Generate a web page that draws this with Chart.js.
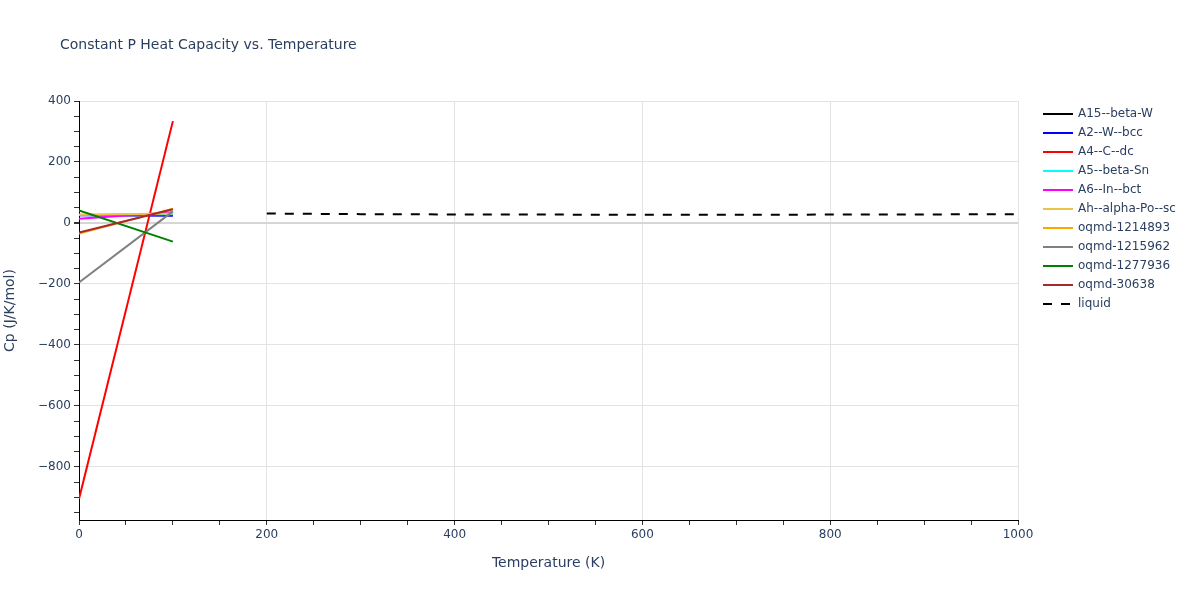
<!DOCTYPE html>
<html>
<head>
<meta charset="utf-8">
<script src="https://cdn.jsdelivr.net/npm/chart.js@4.4.1/dist/chart.umd.min.js"></script>
<style>
html,body{margin:0;padding:0;background:#fff;}
#wrap{width:1200px;height:600px;position:relative;}
</style>
</head>
<body>
<div id="wrap"><canvas id="c" width="1200" height="600"></canvas></div>
<script>
// ---- data ----
const seriesNames = ["A15--beta-W","A2--W--bcc","A4--C--dc","A5--beta-Sn","A6--In--bct","Ah--alpha-Po--sc","oqmd-1214893","oqmd-1215962","oqmd-1277936","oqmd-30638","liquid"];
const seriesColors = ["black","blue","red","cyan","magenta","#EBC34A","orange","gray","green","brown","black"];
const solidT = [0, 100];
const cpA15 = [26, 26];
const cpA2 = [25, 24];
const cpA4 = [-905, 334];
const cpA5 = [27, 29];
const cpA6 = [14, 35];
const cpAh = [27, 31];
const cp1214893 = [-35, 47];
const cp1215962 = [-195, 38];
const cp1277936 = [41, -61];
const cp30638 = [-31, 45];
const liquidT = [200, 300, 400, 500, 600, 700, 800, 900, 1000];
const cpLiquid = [31, 29, 28, 27.5, 27, 27, 27.5, 28, 29];
const xTickLabels = [0, 200, 400, 600, 800, 1000];
const yTickLabels = [-800, -600, -400, -200, 0, 200, 400];

const solidSeries = [cpA15, cpA2, cpA4, cpA5, cpA6, cpAh, cp1214893, cp1215962, cp1277936, cp30638];

const datasets = solidSeries.map((vals, i) => ({
  label: seriesNames[i],
  data: solidT.map((t, k) => ({x: t, y: vals[k]})),
  borderColor: seriesColors[i],
  backgroundColor: seriesColors[i],
  borderWidth: 2,
  pointRadius: 0,
  fill: false,
  tension: 0,
  order: -i
}));
datasets.push({
  label: seriesNames[10],
  data: liquidT.map((t, k) => ({x: t, y: cpLiquid[k]})),
  borderColor: seriesColors[10],
  backgroundColor: seriesColors[10],
  borderWidth: 2,
  borderDash: [9, 9],
  pointRadius: 0,
  fill: false,
  tension: 0,
  order: -10
});

const FONT = '"DejaVu Sans", Verdana, sans-serif';
const TXT = '#2a3f5f';

const fmt = v => (v < 0 ? '\u2212' + Math.abs(v) : String(v));

const customPlugin = {
  id: 'custom',
  afterDraw(chart) {
    const ctx = chart.ctx;
    ctx.save();
    // title
    ctx.fillStyle = TXT;
    ctx.font = '14px ' + FONT;
    ctx.textBaseline = 'middle';
    ctx.textAlign = 'left';
    ctx.fillText('Constant P Heat Capacity vs. Temperature', 60, 45);
    // legend
    ctx.font = '12px ' + FONT;
    chart.data.datasets.forEach((ds, i) => {
      const y = 114 + i * 19;
      ctx.beginPath();
      ctx.strokeStyle = ds.borderColor;
      ctx.lineWidth = 2;
      ctx.setLineDash(ds.borderDash || []);
      ctx.moveTo(1043, y);
      ctx.lineTo(1073, y);
      ctx.stroke();
      ctx.setLineDash([]);
      ctx.fillStyle = TXT;
      ctx.fillText(ds.label, 1078, y);
    });
    ctx.restore();
  }
};

new Chart(document.getElementById('c'), {
  type: 'line',
  data: { datasets },
  plugins: [customPlugin],
  options: {
    responsive: false,
    animation: false,
    layout: { padding: { left: 0, right: 182, top: 101, bottom: 28 } },
    plugins: { legend: { display: false }, tooltip: { enabled: false }, title: { display: false } },
    scales: {
      x: {
        type: 'linear',
        min: 0, max: 1000,
        afterFit(s) { s.height = 52; },
        afterBuildTicks(s) {
          const t = [];
          for (let v = 0; v <= 1000; v += 50) t.push({value: v});
          s.ticks = t;
        },
        ticks: {
          autoSkip: false,
          maxRotation: 0,
          padding: 3,
          color: TXT,
          font: { family: FONT, size: 12 },
          callback: v => (xTickLabels.includes(v) ? fmt(v) : '')
        },
        grid: {
          drawTicks: true,
          tickLength: 5,
          color: c => (c.tick && xTickLabels.includes(c.tick.value) && c.tick.value !== 0 ? '#e3e3e3' : 'rgba(0,0,0,0)'),
          tickColor: '#333',
          lineWidth: 1
        },
        border: { display: true, color: '#000', width: 1 },
        title: {
          display: true,
          text: 'Temperature (K)',
          color: TXT,
          font: { family: FONT, size: 14 },
          padding: { top: 0, bottom: 0 }
        }
      },
      y: {
        type: 'linear',
        min: -974, max: 400,
        afterFit(s) { s.width = 79; },
        afterBuildTicks(s) {
          const t = [];
          for (let v = -950; v <= 400; v += 50) t.push({value: v});
          s.ticks = t;
        },
        ticks: {
          autoSkip: false,
          padding: 3,
          color: TXT,
          font: { family: FONT, size: 12 },
          callback: v => (yTickLabels.includes(v) ? fmt(v) : '')
        },
        grid: {
          drawTicks: true,
          tickLength: 5,
          color: c => {
            if (!c.tick || !yTickLabels.includes(c.tick.value)) return 'rgba(0,0,0,0)';
            return c.tick.value === 0 ? '#d6d6d6' : '#e3e3e3';
          },
          lineWidth: c => (c.tick && c.tick.value === 0 ? 2 : 1),
          tickColor: '#333'
        },
        border: { display: true, color: '#000', width: 1 },
        title: {
          display: true,
          text: 'Cp (J/K/mol)',
          color: TXT,
          font: { family: FONT, size: 14 },
          padding: { top: 2, bottom: 4 }
        }
      }
    }
  }
});
</script>
</body>
</html>
